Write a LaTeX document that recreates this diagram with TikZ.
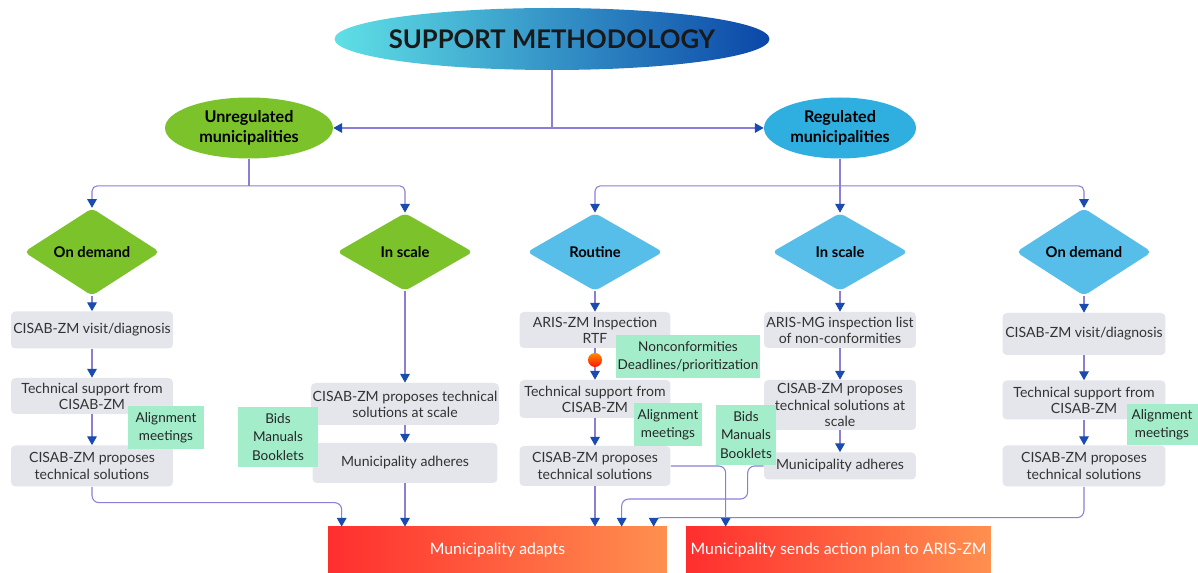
\documentclass[tikz,border=0pt]{standalone}
\usepackage{fontspec}
\setmainfont{Lato}
\usetikzlibrary{shapes.geometric,arrows.meta,calc}

\definecolor{titleleft}{HTML}{5FE0E6}
\definecolor{titleright}{HTML}{0B47A8}
\definecolor{unreggreen}{HTML}{7CC22B}
\definecolor{regblue}{HTML}{2FAEE0}
\definecolor{skyblue}{HTML}{56BEE8}
\definecolor{boxgray}{HTML}{E4E6EB}
\definecolor{notegreen}{HTML}{A3EDCB}
\definecolor{adaptleft}{HTML}{FF2E2E}
\definecolor{adaptright}{HTML}{FF904F}
\definecolor{linepurple}{HTML}{8A7ED8}
\definecolor{tipblue}{HTML}{1A4BAE}
\definecolor{txtgray}{HTML}{333333}

\begin{document}
\begin{tikzpicture}[x=0.02cm, y=-0.02cm,
  every node/.style={font=\fontsize{8}{9.2}\selectfont, text=txtgray},
  conn/.style={draw=linepurple, line width=0.6pt, -{Triangle[length=5pt,width=5.5pt,color=tipblue]}},
  grp/.style={ellipse, minimum height=1.22cm, inner sep=0pt, align=center, text=black, font=\bfseries\fontsize{9.2}{11.5}\selectfont},
  choice/.style={diamond, minimum width=2.72cm, minimum height=1.56cm, inner sep=0pt, rounded corners=3pt, text=black, font=\bfseries\fontsize{8.4}{10}\selectfont},
  box/.style={rectangle, rounded corners=2.5pt, fill=boxgray, align=center, inner sep=1pt},
  note/.style={rectangle, fill=notegreen, align=center, inner sep=1pt, text=black!85, font=\fontsize{7.7}{10.3}\selectfont},
  final/.style={rectangle, minimum height=0.92cm, inner sep=0pt, text=white, font=\fontsize{9}{11}\selectfont}]

\useasboundingbox[fill=white] (0,0) rectangle (1198,573);

\shade[left color=titleleft, right color=titleright] (552,39) ellipse [x radius=4.35cm, y radius=0.62cm];
\node[minimum width=8.7cm, minimum height=1.24cm, inner sep=0pt, text=black!90,
  font=\bfseries\fontsize{14.6}{17}\selectfont] (title) at (552,39) {SUPPORT METHODOLOGY};
\node[grp, fill=unreggreen, minimum width=3.36cm] (unreg) at (249,128) {Unregulated\\municipalities};
\node[grp, fill=regblue, minimum width=3.04cm] (reg) at (840,128) {Regulated\\municipalities};

\foreach \name/\x/\txt/\col in {ld1/92/On demand/unreggreen, ld2/405/In scale/unreggreen, rd1/595/Routine/skyblue,
  rd2/840/In scale/skyblue, rd3/1084/On demand/skyblue}
  \node[choice, fill=\col] (\name) at (\x,252) {\txt};

\node[box, minimum width=3.24cm, minimum height=0.74cm] (l1) at (92,330) {CISAB-ZM visit/diagnosis};
\node[box, minimum width=3.24cm, minimum height=0.72cm] (l2) at (92,396) {Technical support from\\CISAB-ZM};
\node[box, minimum width=3.24cm, minimum height=0.82cm] (l3) at (92,466) {CISAB-ZM proposes\\technical solutions};
\node[box, minimum width=3.72cm, minimum height=0.84cm] (s1) at (405,404) {CISAB-ZM proposes technical\\solutions at scale};
\node[box, minimum width=3.7cm, minimum height=0.8cm] (s2) at (405,463) {Municipality adheres};
\node[box, minimum width=3.02cm, minimum height=0.72cm] (r1) at (595,330) {ARIS-ZM Inspection\\RTF};
\node[box, minimum width=3.02cm, minimum height=0.76cm] (r2) at (595,399) {Technical support from\\CISAB-ZM};
\node[box, minimum width=3.02cm, minimum height=0.8cm] (r3) at (595,466) {CISAB-ZM proposes\\technical solutions};
\node[box, minimum width=3.04cm, minimum height=0.72cm] (m1) at (840,330) {ARIS-MG inspection list\\of non-conformities};
\node[box, minimum width=3.04cm, minimum height=1.0cm] (m2) at (840,405) {CISAB-ZM proposes\\technical solutions at\\scale};
\node[box, minimum width=3.04cm, minimum height=0.54cm] (m3) at (840,466) {Municipality adheres};
\node[box, minimum width=3.26cm, minimum height=0.84cm] (o1) at (1084,334) {CISAB-ZM visit/diagnosis};
\node[box, minimum width=3.26cm, minimum height=0.78cm] (o2) at (1084,400) {Technical support from\\CISAB-ZM};
\node[box, minimum width=3.26cm, minimum height=0.82cm] (o3) at (1084,466) {CISAB-ZM proposes\\technical solutions};

\node[final, left color=adaptleft, right color=adaptright, minimum width=6.78cm] (adapt) at (497.5,550) {Municipality adapts};
\node[final, left color=adaptleft, right color=adaptright, minimum width=6.1cm] (plan) at (838.5,550) {Municipality sends action plan to ARIS-ZM};

\draw[conn] (title.south) |- (unreg.east);
\draw[conn] (title.south) |- (reg.west);
\path (unreg.south) ++(0,27) coordinate (ubus);
\path (reg.south) ++(0,27) coordinate (rbus);
\draw[conn, -] (unreg.south) -- (ubus);
\draw[conn, rounded corners=3pt] (ubus) -| (ld1.north);
\draw[conn, rounded corners=3pt] (ubus) -| (ld2.north);
\draw[conn] (reg.south) -- (rd2.north);
\draw[conn, rounded corners=3pt] (rbus) -| (rd1.north);
\draw[conn, rounded corners=3pt] (rbus) -| (rd3.north);

\foreach \a/\b in {ld1/l1,l1/l2,l2/l3,ld2/s1,s1/s2,rd1/r1,r1/r2,r2/r3,rd2/m1,m1/m2,m2/m3,rd3/o1,o1/o2,o2/o3}
  \draw[conn] (\a.south) -- (\b.north);

\node[circle, inner sep=0pt, minimum size=0.28cm, top color=orange!90!yellow, bottom color=red!85!orange] (flag) at (595,360) {};

\draw[conn, rounded corners=4pt] (l3.south) |- ($(adapt.north west)+(14,-24)$) -- ($(adapt.north west)+(14,0)$);
\draw[conn] (s2.south) -- (s2.south |- adapt.north);
\draw[conn] (r3.south) -- (r3.south |- adapt.north);
\draw[conn, rounded corners=4pt] (r3.east) -| ($(plan.north west)+(40,0)$);
\draw[conn, rounded corners=4pt] (m3.west) -| ($(m3.west)+(-16,33)$) -| ($(adapt.north west)+(294,0)$);
\draw[conn, rounded corners=4pt] (o3.south) |- ($(adapt.north west)+(326,-9)$) -- ($(adapt.north west)+(326,0)$);

\node[note, minimum width=1.54cm, minimum height=0.86cm] (al1) at (166,428) {Alignment\\meetings};
\node[note, minimum width=1.6cm, minimum height=1.2cm] (bd1) at (278,437) {Bids\\Manuals\\Booklets};
\node[note, minimum width=2.88cm, minimum height=0.86cm] (nc) at (688,357) {Nonconformities\\Deadlines/prioritization};
\node[note, minimum width=1.36cm, minimum height=0.86cm] (al2) at (668,425) {Alignment\\meetings};
\node[note, minimum width=1.22cm, minimum height=1.2cm] (bd2) at (746,435) {Bids\\Manuals\\Booklets};
\node[note, minimum width=1.42cm, minimum height=0.82cm] (al3) at (1162,425) {Alignment\\meetings};
\end{tikzpicture}
\end{document}
